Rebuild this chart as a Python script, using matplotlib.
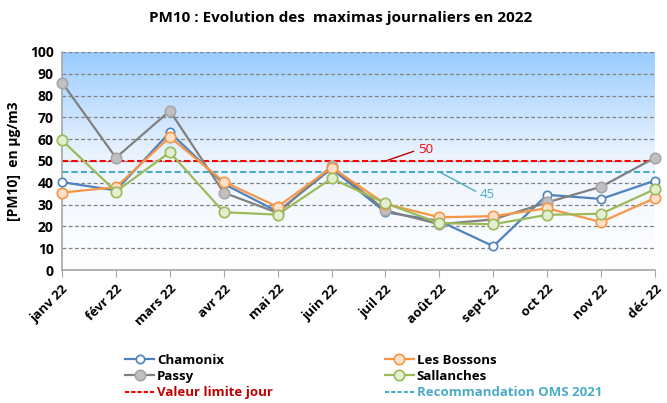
import matplotlib
matplotlib.use("Agg")
import matplotlib.pyplot as plt
import numpy as np
from matplotlib.colors import LinearSegmentedColormap

months = ["janv 22", "févr 22", "mars 22", "avr 22", "mai 22", "juin 22",
          "juil 22", "août 22", "sept 22", "oct 22", "nov 22", "déc 22"]
chamonix = [40.3, 36.5, 63.2, 39.5, 26.8, 46.5, 26.5, 22.5, 10.9, 34.5, 32.6, 41.0]
passy = [86.0, 51.5, 73.0, 35.5, 26.2, 47.6, 27.3, 21.0, 23.2, 31.0, 38.2, 51.5]
bossons = [35.5, 38.0, 61.0, 40.5, 29.0, 47.0, 30.3, 24.2, 24.7, 28.3, 22.0, 33.0]
sallanches = [59.5, 36.0, 54.0, 26.5, 25.4, 42.0, 30.6, 21.5, 21.0, 25.3, 25.8, 37.1]
valeur_limite = 50
oms_2021 = 45

plt.rcParams['font.family'] = ['Open Sans', 'DejaVu Sans']

fig = plt.figure(figsize=(6.67, 4.03), dpi=100)
ax = fig.add_axes([0.093, 0.33, 0.889, 0.541])

x = np.arange(len(months))
ax.set_xlim(0, len(months) - 1)
ax.set_ylim(0, 100)

# gradient background
cmap = LinearSegmentedColormap.from_list("bg", ["#ffffff", "#eef5fe", "#99ccff"])
grad = np.linspace(0, 1, 256).reshape(-1, 1)
ax.imshow(grad, extent=[0, len(months) - 1, 0, 100], origin="lower",
          aspect="auto", cmap=cmap, zorder=0)

for yv in range(10, 101, 10):
    ax.axhline(yv, color="#808080", lw=0.9, ls=(0, (3, 2)), zorder=1)

ax.axhline(valeur_limite, color="#ff0000", lw=1.5, ls=(0, (3, 1.5)), zorder=2)
ax.axhline(oms_2021, color="#4bacc6", lw=1.5, ls=(0, (3, 1.5)), zorder=2)

series = [
    ("Chamonix", chamonix, "#4f81bd", "#ffffff", "#4f81bd"),
    ("Passy", passy, "#808080", "#c0c0c0", "#a6a6a6"),
    ("Les Bossons", bossons, "#f79646", "#fde0c8", "#f79646"),
    ("Sallanches", sallanches, "#9bbb59", "#e3eed2", "#9bbb59"),
]
handles = {}
for name, vals, lc, fc, ec in series:
    ms = 6 if name == "Chamonix" else 7.5
    h, = ax.plot(x, vals, color=lc, lw=1.6, marker="o", ms=ms,
                 markerfacecolor=fc, markeredgecolor=ec, markeredgewidth=1.2,
                 zorder=3, label=name, clip_on=False)
    handles[name] = h

h_lim, = ax.plot([], [], color="#ff0000", lw=1.5, ls=(0, (2, 1)), label="Valeur limite jour")
h_oms, = ax.plot([], [], color="#4bacc6", lw=1.5, ls=(0, (2, 1)), label="Recommandation OMS 2021")

# annotations
ax.annotate(str(valeur_limite), xy=(6.0, valeur_limite), xytext=(6.6, 55.5),
            color="#ff0000", fontsize=9.5, va="center", ha="left",
            arrowprops=dict(arrowstyle="-", color="#c00000", lw=1,
                            connectionstyle="arc,angleA=180,armA=5,angleB=0,armB=0,rad=0",
                            shrinkA=1, shrinkB=0))
ax.annotate(str(oms_2021), xy=(7.0, oms_2021), xytext=(7.75, 34.5),
            color="#4bacc6", fontsize=9.5, va="center", ha="left",
            arrowprops=dict(arrowstyle="-", color="#4bacc6", lw=1,
                            connectionstyle="arc,angleA=180,armA=5,angleB=0,armB=0,rad=0",
                            shrinkA=1, shrinkB=0))

ax.set_yticks(range(0, 101, 10))
ax.set_yticklabels([str(v) for v in range(0, 101, 10)], fontweight="bold", fontsize=10)
ax.set_xticks(x)
ax.set_xticklabels(months, rotation=45, ha="right", rotation_mode="anchor",
                   fontweight="bold", fontsize=9.5)
ax.tick_params(axis="y", length=0, pad=6)
ax.tick_params(axis="x", length=5, color="#a6a6a6", pad=4)

for s in ["top", "right"]:
    ax.spines[s].set_visible(False)
ax.spines["left"].set_color("#a6a6a6")
ax.spines["bottom"].set_color("#a6a6a6")
ax.spines["left"].set_linewidth(1.2)
ax.spines["bottom"].set_linewidth(1.2)

ax.set_ylabel("[PM10]  en µg/m3", fontweight="bold", fontsize=10, labelpad=6)
fig.suptitle("PM10 : Evolution des  maximas journaliers en 2022", fontweight="bold",
             fontsize=11, x=0.51, y=0.972)

leg = fig.legend(handles=[handles["Chamonix"], handles["Passy"], h_lim,
                          handles["Les Bossons"], handles["Sallanches"], h_oms],
                 ncol=2, loc="center", bbox_to_anchor=(0.545, 0.066), frameon=False,
                 prop=dict(weight="bold", size=9.5), handlelength=2.2,
                 handletextpad=0.2, columnspacing=8.5, labelspacing=0.25,
                 borderaxespad=0)
texts = leg.get_texts()
texts[2].set_color("#c00000")
texts[5].set_color("#4bacc6")

fig.savefig("out.png", dpi=100)
